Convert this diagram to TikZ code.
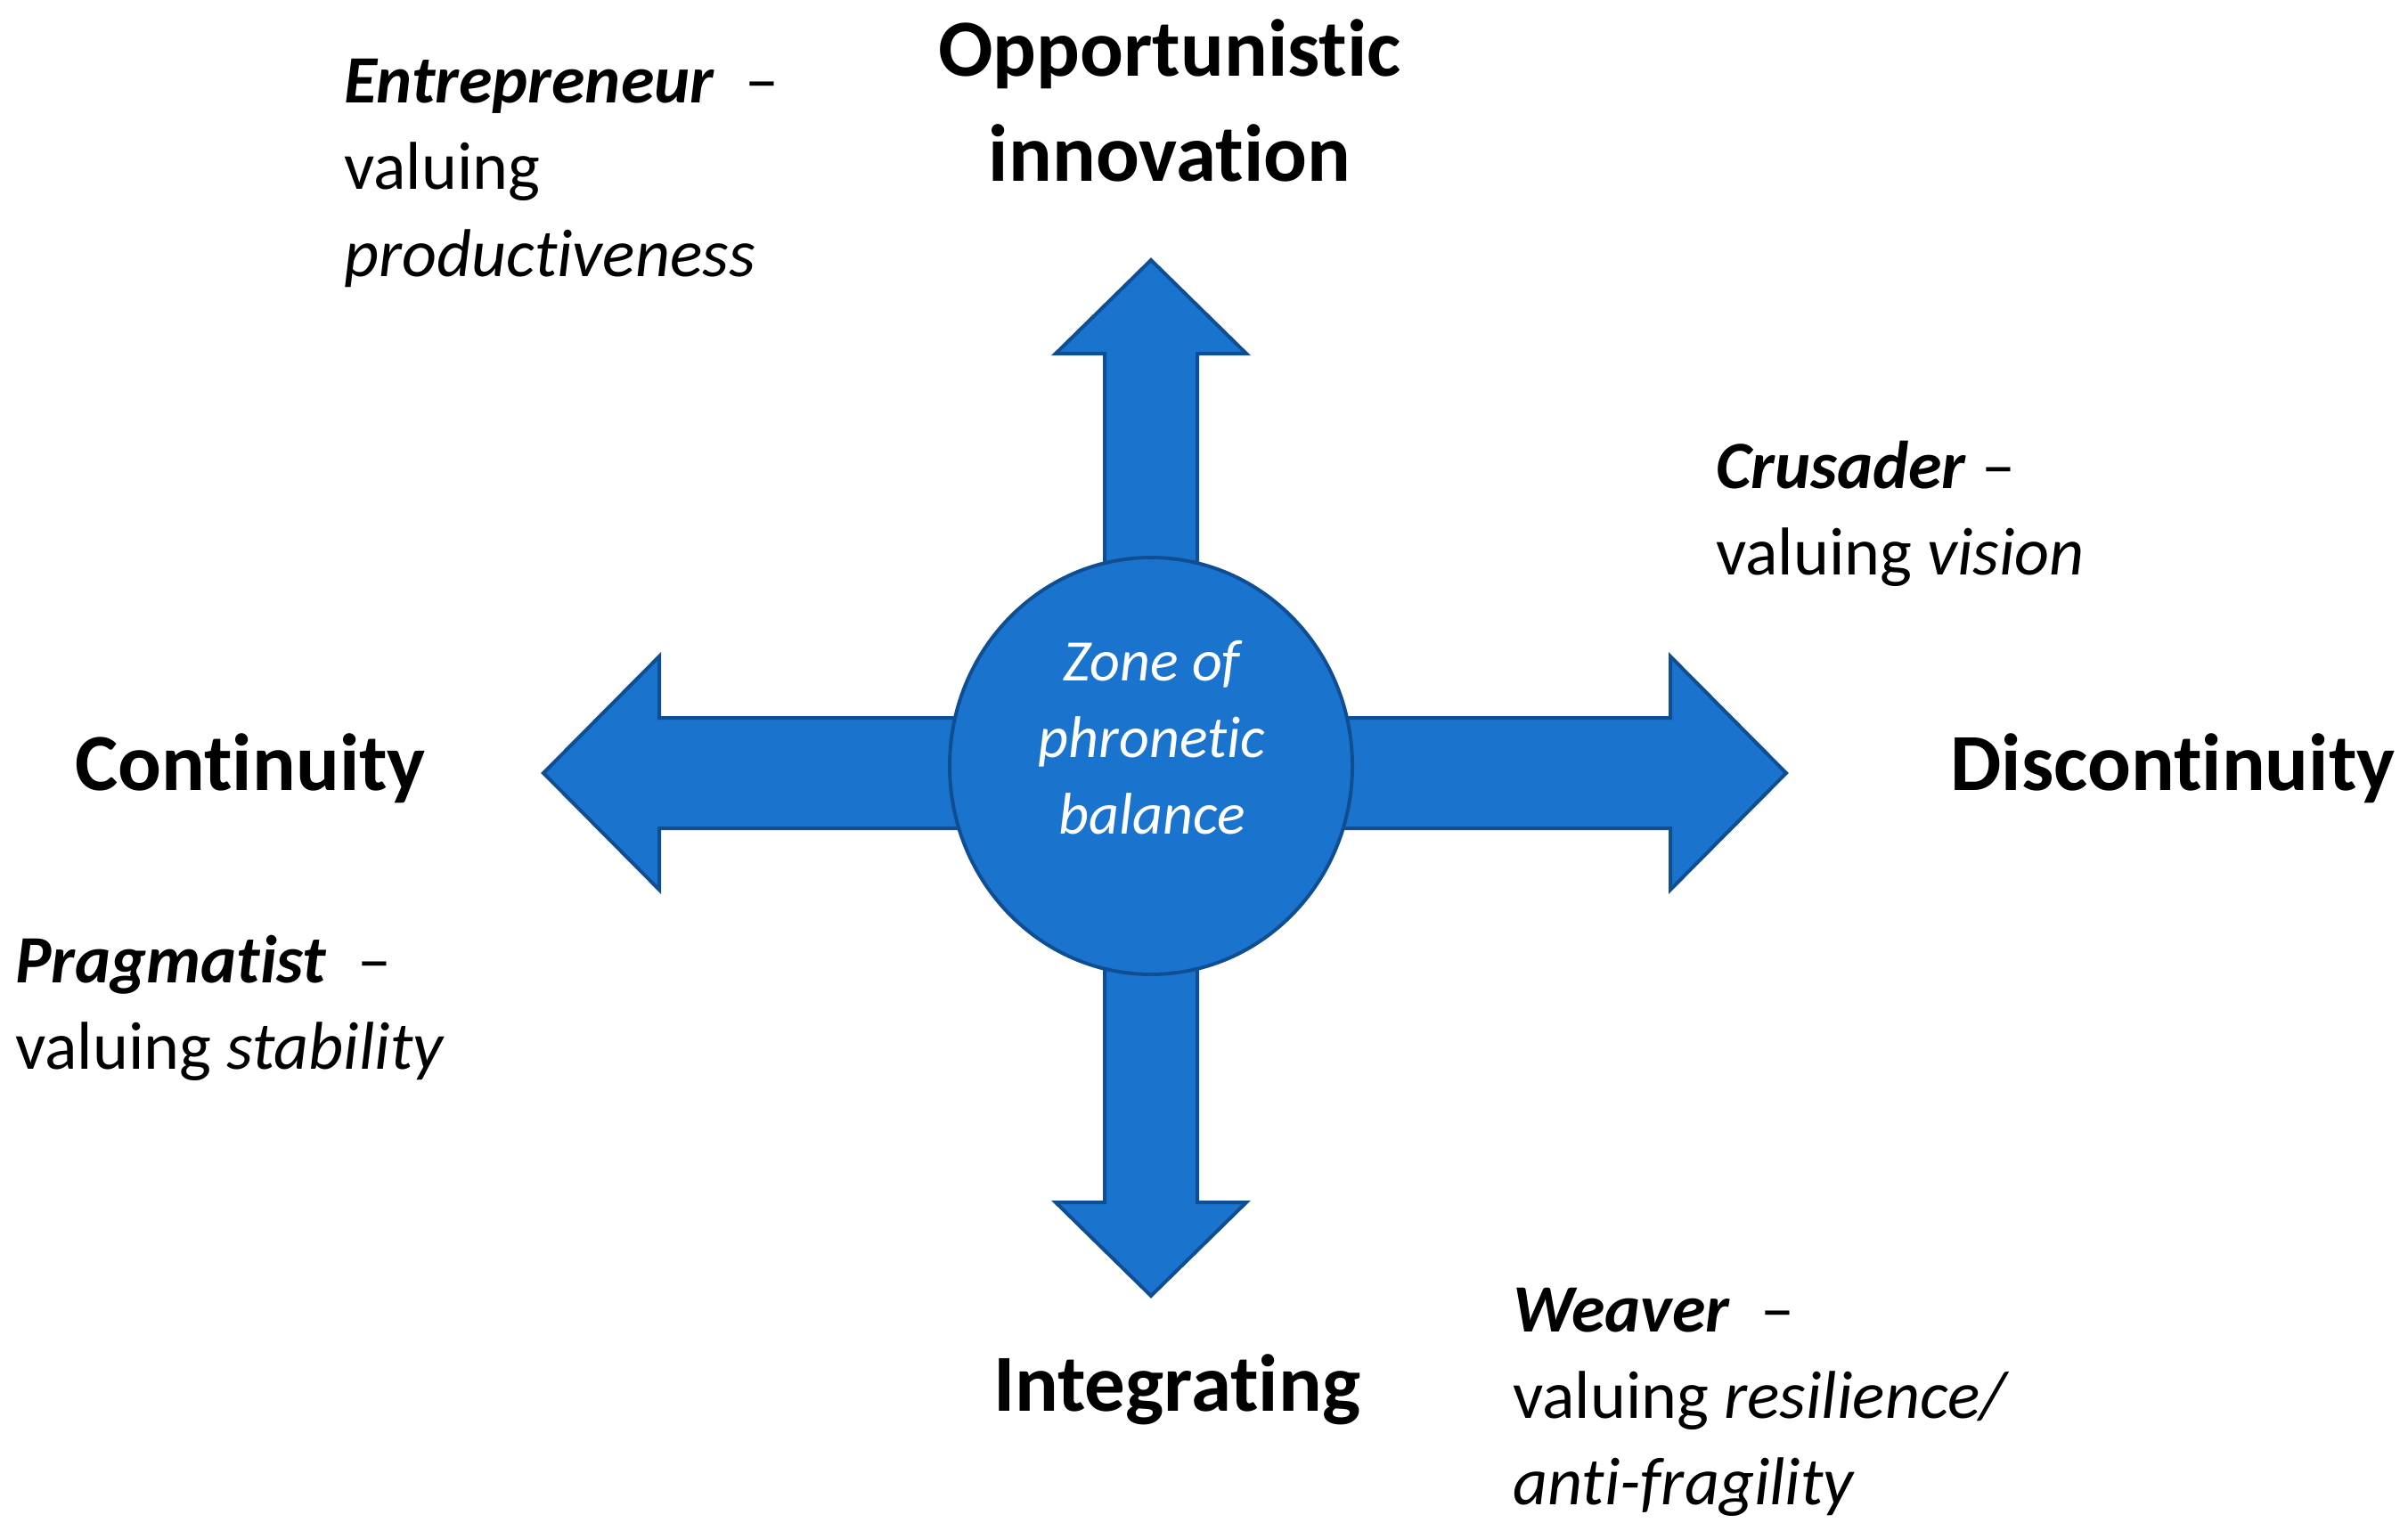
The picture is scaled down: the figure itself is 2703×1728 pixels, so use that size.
\documentclass[tikz,border=0pt]{standalone}
\usepackage{fontspec}
\setmainfont{Carlito}[Ligatures={NoCommon,NoRequired,NoContextual},RawFeature={-liga;-clig;-dlig}]
\usetikzlibrary{shapes.geometric}
\definecolor{blufill}{RGB}{26,115,204}
\definecolor{bluline}{RGB}{16,78,148}
\tikzset{
  blockarrow/.style={fill=blufill, draw=bluline, line width=4pt, line join=miter},
  titletext/.style={font=\fontsize{91}{110}\selectfont\bfseries, text=black, inner sep=0pt},
  roletext/.style={font=\fontsize{76}{97}\selectfont, text=black, inner sep=0pt, anchor=base west},
  zonetext/.style={font=\fontsize{66}{86}\selectfont\itshape, text=white, inner sep=0pt, anchor=base},
}
\begin{document}
\begin{tikzpicture}[x=1pt,y=-1pt]
\useasboundingbox (0,0) rectangle (2703,1728);
\fill[white] (0,0) rectangle (2703,1728);
% arrows
\draw[blockarrow] (1240,862) -- (1240,397) -- (1185,397) -- (1292,292) -- (1399,397) -- (1344,397) -- (1344,862) -- cycle;
\draw[blockarrow] (1240,862) -- (1240,1350) -- (1185,1350) -- (1292,1455) -- (1399,1350) -- (1344,1350) -- (1344,862) -- cycle;
\draw[blockarrow] (1292,806) -- (740,806) -- (740,737) -- (610,868) -- (740,999) -- (740,930) -- (1292,930) -- cycle;
\draw[blockarrow] (1292,806) -- (1875,806) -- (1875,737) -- (2005,868) -- (1875,999) -- (1875,930) -- (1292,930) -- cycle;
% centre
\node[ellipse, fill=blufill, draw=bluline, line width=4pt, minimum width=452pt, minimum height=468pt, inner sep=0pt] (zone) at (1292,860) {};
\node[zonetext] (z1) at (1293,764) {Zone of};
\node[zonetext] (z2) at (1293,850) {phronetic};
\node[zonetext] (z3) at (1293,936) {balance};
% titles
\node[titletext, anchor=base] (opp1) at (1313,86) {Opportunistic};
\node[titletext, anchor=base] (opp2) at (1313,204) {innovation};
\node[titletext, anchor=base] (cont) at (281,887) {Continuity};
\node[titletext, anchor=base] (disc) at (2439,887) {Discontinuity};
\node[titletext, anchor=base] (integ) at (1321,1584) {Integrating};
% roles
\node[roletext] (ent1) at (386,116) {\textbf{\textit{Entrepreneur}}\ \ –};
\node[roletext] (ent2) at (386,213) {valuing};
\node[roletext] (ent3) at (386,310) {\textit{productiveness}};
\node[roletext] (cru1) at (1926,548) {\textbf{\textit{Crusader}}\ –};
\node[roletext] (cru2) at (1926,645) {valuing \textit{vision}};
\node[roletext] (pra1) at (17,1103) {\textbf{\textit{Pragmatist}}\ \ –};
\node[roletext] (pra2) at (17,1200) {valuing \textit{stability}};
\node[roletext] (wea1) at (1698,1495) {\textbf{\textit{Weaver}}\ \ –};
\node[roletext] (wea2) at (1698,1592) {valuing \textit{resilience/}};
\node[roletext] (wea3) at (1698,1689) {\textit{anti-fragility}};
\end{tikzpicture}
\end{document}
